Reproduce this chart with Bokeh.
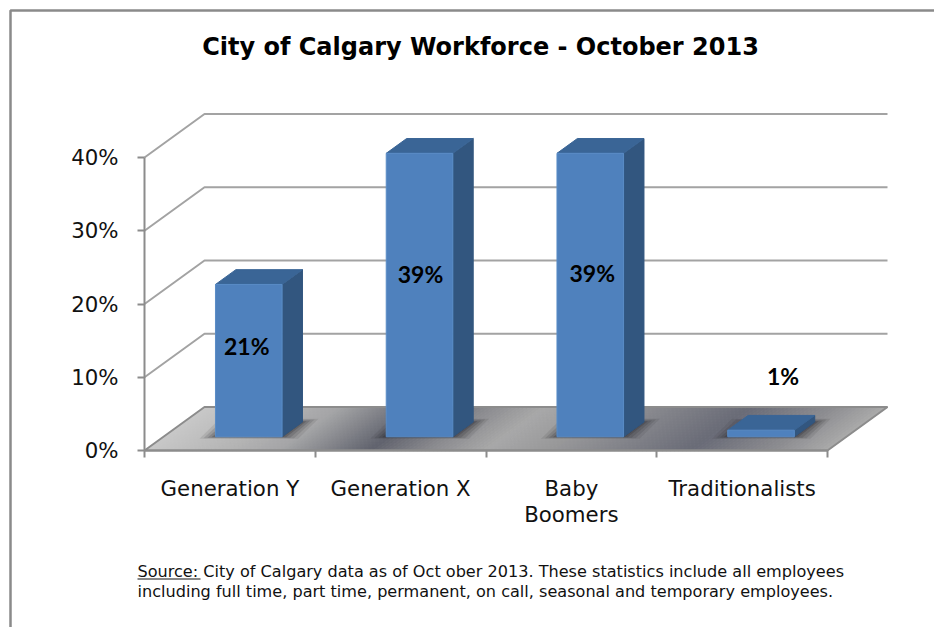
from bokeh.plotting import figure
from bokeh.embed import file_html
from bokeh.resources import INLINE
from bokeh.models import Range1d, LinearAxis, FixedTicker, Label, BoxAnnotation

# ---- data
categories = ["Generation Y", "Generation X", "Baby\nBoomers", "Traditionalists"]
workforce_pct = [20.8, 38.7, 38.7, 0.9]
data_labels = ["21%", "39%", "39%", "1%"]
y_ticks = [0, 10, 20, 30, 40]
title_text = "City of Calgary Workforce - October 2013"
source_line1 = "Source: City of Calgary data as of Oct ober 2013. These statistics include all employees"
source_line2 = "including full time, part time, permanent, on call, seasonal and temporary employees."

# ---- layout (window pixels)
W, H = 934, 627
PX_X0, PX_Y0 = 144, 450      # origin of the axes on the page
CAT_PX = 170.75              # one category
PCT_PX = 7.325               # one percentage point
DEPTH_X = 60 / CAT_PX        # 3D depth in data units
DEPTH_Y = 43.5 / PCT_PX
BAR_W = 0.39
BAR_OFF = 0.315              # where the bar starts within the depth
BAR_DEPTH = 0.34

def xd(px): return (px - PX_X0) / CAT_PX
def yd(py): return (PX_Y0 - py) / PCT_PX

GRID = "#a3a3a3"
AXIS = "#8c8c8c"
FRONT, SIDE, TOP = "#4f81bd", "#32567f", "#3a6596"

p = figure(width=W, height=H, output_backend="svg", toolbar_location=None,
           x_range=Range1d(xd(0), xd(W)), y_range=Range1d(yd(H), yd(0)),
           min_border_left=0, min_border_right=0, min_border_top=0, min_border_bottom=0,
           x_axis_type=None, y_axis_type=None, tools="")
p.xgrid.visible = False
p.ygrid.visible = False
p.outline_line_color = None
p.background_fill_color = "white"

# back wall grid lines with their slanted returns to the y axis
n_cat = len(categories)
grid_xs, grid_ys = [], []
for t in y_ticks[1:]:
    grid_xs.append([0, DEPTH_X, n_cat + DEPTH_X])
    grid_ys.append([t, t + DEPTH_Y, t + DEPTH_Y])
p.multi_line(grid_xs, grid_ys, line_color=GRID, line_width=2)

# floor: a banded gradient
stops = [(0.0, (200, 200, 200)), (0.12, (180, 180, 180)), (0.2, (164, 164, 166)),
         (0.33, (96, 98, 109)), (0.42, (140, 140, 144)), (0.5, (168, 168, 168)),
         (0.6, (150, 150, 152)), (0.8, (105, 107, 119)), (0.92, (140, 140, 144)),
         (1.0, (170, 170, 170))]
def ramp(t):
    for (a, ca), (b, cb) in zip(stops, stops[1:]):
        if a <= t <= b:
            f = (t - a) / (b - a)
            return "#%02x%02x%02x" % tuple(round(u + (v - u) * f) for u, v in zip(ca, cb))
    return "#aaaaaa"
BANDS = 170
fx, fy, fc = [], [], []
for i in range(BANDS):
    a, b = n_cat * i / BANDS, n_cat * (i + 1) / BANDS
    fx.append([a, b, b + DEPTH_X, a + DEPTH_X])
    fy.append([0, 0, DEPTH_Y, DEPTH_Y])
    fc.append(ramp((i + 0.5) / BANDS))
p.patches(fx, fy, fill_color=fc, line_color=fc, line_width=1)
p.multi_line([[0, n_cat, n_cat + DEPTH_X, DEPTH_X, 0]], [[0, 0, DEPTH_Y, DEPTH_Y, 0]],
             line_color=AXIS, line_width=2)

# bars
for i, v in enumerate(workforce_pct):
    c = i + 0.5 + BAR_OFF * DEPTH_X
    l, r = c - BAR_W / 2, c + BAR_W / 2
    b = BAR_OFF * DEPTH_Y
    dx, dy = BAR_DEPTH * DEPTH_X, BAR_DEPTH * DEPTH_Y
    # soft floor shadow
    for k, alpha in ((16, 0.10), (12, 0.14), (8, 0.18), (4, 0.24), (1, 0.30)):
        ex, ey = k / CAT_PX, 0.5 * k / PCT_PX
        p.patch([l - ex, r + ex, r + dx + ex, l + dx - ex],
                [b - ey * 0.25, b - ey * 0.25, b + dy + ey * 0.4, b + dy + ey * 0.4],
                fill_color="#26262c", fill_alpha=alpha, line_color=None)
    p.patch([r, r + dx, r + dx, r], [b, b + dy, b + dy + v, b + v],
            fill_color=SIDE, line_color=SIDE, line_width=1)
    p.patch([l, r, r + dx, l + dx], [b + v, b + v, b + v + dy, b + v + dy],
            fill_color=TOP, line_color=TOP, line_width=1)
    p.quad(left=l, right=r, bottom=b, top=b + v, fill_color=FRONT,
           line_color="#5a8cc6", line_width=1)

# y axis
yaxis = LinearAxis(ticker=FixedTicker(ticks=y_ticks), bounds=(0, 40), fixed_location=0)
yaxis.major_label_overrides = {t: f"{t}%" for t in y_ticks}
yaxis.axis_line_color = AXIS
yaxis.axis_line_width = 2
yaxis.major_tick_line_color = AXIS
yaxis.major_tick_line_width = 2
yaxis.major_tick_out = 7
yaxis.major_tick_in = 0
yaxis.minor_tick_line_color = None
yaxis.major_label_standoff = 19
yaxis.major_label_text_font = "DejaVu Sans"
yaxis.major_label_text_font_size = "21.3px"
yaxis.major_label_text_color = "#111111"
p.add_layout(yaxis, "left")

# x axis: ticks on category edges ...
xaxis = LinearAxis(ticker=FixedTicker(ticks=list(range(n_cat + 1))), bounds=(0, n_cat), fixed_location=0)
xaxis.axis_line_color = AXIS
xaxis.axis_line_width = 2
xaxis.major_tick_line_color = AXIS
xaxis.major_tick_line_width = 2
xaxis.major_tick_out = 7
xaxis.major_tick_in = 0
xaxis.minor_tick_line_color = None
xaxis.major_label_text_font_size = "0px"
xaxis.major_label_text_color = None
p.add_layout(xaxis, "below")

# ... labels on category centres, drawn over the same axis line
xlabels = LinearAxis(ticker=FixedTicker(ticks=[i + 0.5 for i in range(n_cat)]), fixed_location=0)
xlabels.major_label_overrides = {i + 0.5: c for i, c in enumerate(categories)}
xlabels.axis_line_color = None
xlabels.major_tick_line_color = None
xlabels.minor_tick_line_color = None
xlabels.major_label_standoff = 19
xlabels.major_label_text_font = "DejaVu Sans"
xlabels.major_label_text_font_size = "21.3px"
xlabels.major_label_text_line_height = 1.07
xlabels.major_label_text_color = "#111111"
p.add_layout(xlabels, "below")

# value labels
label_nudge_px = [-2, 1, 2, 22]
label_lift_px = [15, 21, 22, 58]
for i, (v, t) in enumerate(zip(workforce_pct, data_labels)):
    cx = i + 0.5 + BAR_OFF * DEPTH_X + label_nudge_px[i] / CAT_PX
    cy = BAR_OFF * DEPTH_Y + v / 2 + label_lift_px[i] / PCT_PX
    p.add_layout(Label(x=cx, y=cy, text=t, text_align="center", text_baseline="middle",
                       text_font="Lato", text_font_style="bold",
                       text_font_size="23px", text_color="black"))

# title and note
p.add_layout(Label(x=xd(480), y=yd(46), text=title_text, text_align="center",
                   text_baseline="middle", text_font="DejaVu Sans", text_font_style="bold",
                   text_font_size="24px", text_color="black"))
p.add_layout(Label(x=xd(137), y=yd(571), text=source_line1, text_align="left",
                   text_baseline="middle", text_font="DejaVu Sans", text_font_size="16.1px",
                   text_color="#111111"))
p.add_layout(Label(x=xd(137), y=yd(591), text=source_line2, text_align="left",
                   text_baseline="middle", text_font="DejaVu Sans", text_font_size="16.1px",
                   text_color="#111111"))
p.add_layout(BoxAnnotation(left=xd(137), right=xd(200), top=yd(578), bottom=yd(579),
                           fill_color="#111111", fill_alpha=1, line_color=None))

# outer rule, open on the right and at the bottom
p.add_layout(BoxAnnotation(left=xd(10), right=xd(990), top=yd(10), bottom=yd(700),
                           fill_alpha=0, line_color="#8a8a8a", line_alpha=1, line_width=2.5))

open("out.html", "w").write(file_html(p, INLINE))
